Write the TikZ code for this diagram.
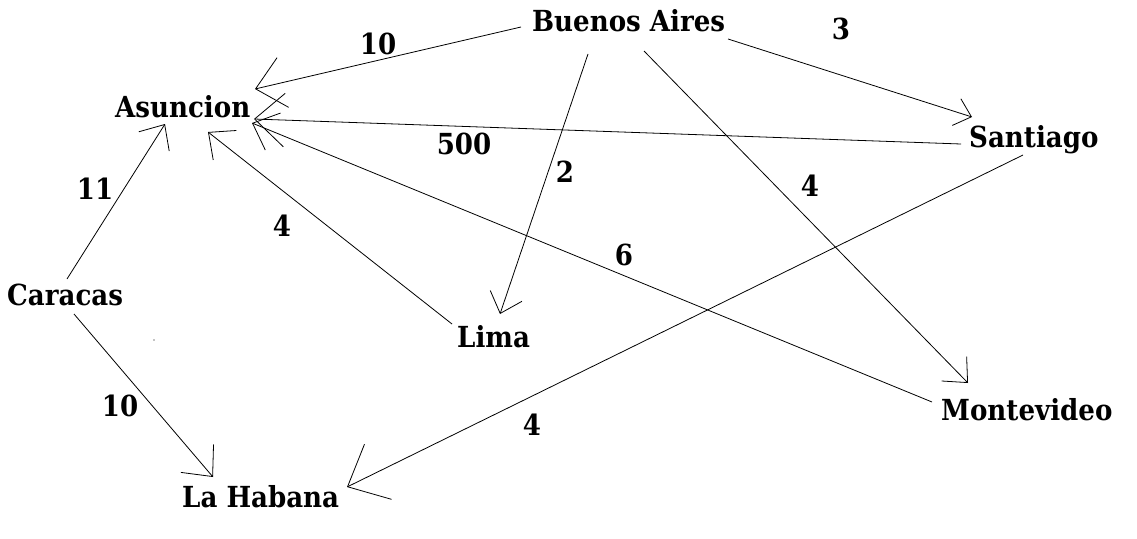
\documentclass[tikz,border=0pt]{standalone}
\usepackage{fontspec}
\newfontfamily\lblfont{DejaVu Serif Condensed Bold}
\usetikzlibrary{arrows.meta}
\begin{document}
\begin{tikzpicture}[x=1pt,y=-1pt,
  city/.style={anchor=base west, inner sep=0pt, font=\lblfont\fontsize{29}{35}\selectfont},
  wt/.style={inner sep=0pt, font=\lblfont\fontsize{29}{35}\selectfont},
  link/.style={line width=0.8pt, line join=miter},
  hd/.style 2 args={-{Straight Barb[length=#1pt,width=#2pt]}}]
\useasboundingbox (0,0) rectangle (1137,538);
% cities
\node[city] (ba)  at (532,31)  {Buenos Aires};
\node[city] (asu) at (115,117) {Asuncion};
\node[city] (san) at (969,147) {Santiago};
\node[city] (car) at (7,305)   {Caracas};
\node[city] (lim) at (457,347) {Lima};
\node[city] (mon) at (941,420) {Montevideo};
\node[city] (hab) at (182,507) {La Habana};
% connectors
\draw[link,hd={28}{51}]     ([shift={(-11,-4)}]ba.base west)  -- ([shift={(140,-28)}]asu.base west);
\draw[link,hd={15.6}{28}]   ([shift={(196,8)}]ba.base west)   -- ([shift={(3,-30)}]san.base west);
\draw[link,hd={18.5}{33.5}] ([shift={(56,23)}]ba.base west)   -- ([shift={(43,-33)}]lim.base west);
\draw[link,hd={19.3}{35}]   ([shift={(112,20)}]ba.base west)  -- ([shift={(27,-37)}]mon.base west);
\draw[link,hd={29.7}{53.5}] ([shift={(-8,-3)}]san.base west)  -- ([shift={(139,2)}]asu.base west);
\draw[link,hd={34}{61.5}]   ([shift={(54,8)}]san.base west)   -- ([shift={(165,-20)}]hab.base west);
\draw[link,hd={22}{40}]     ([shift={(-9,-18)}]mon.base west) -- ([shift={(137,6)}]asu.base west);
\draw[link,hd={20.8}{37.5}] ([shift={(-5,-23)}]lim.base west) -- ([shift={(93,15)}]asu.base west);
\draw[link,hd={20}{36}]     ([shift={(60,-26)}]car.base west) -- ([shift={(50,7)}]asu.base west);
\draw[link,hd={23.8}{43}]   ([shift={(67,9)}]car.base west)   -- ([shift={(31,-30)}]hab.base west);
% weights
\node[wt] (w1)  at (378,44)  {10};
\node[wt] (w2)  at (841,29)  {3};
\node[wt] (w3)  at (565,172) {2};
\node[wt] (w4)  at (810,186) {4};
\node[wt] (w5)  at (464,144) {500};
\node[wt] (w6)  at (532,425) {4};
\node[wt] (w7)  at (624,255) {6};
\node[wt] (w8)  at (282,226) {4};
\node[wt] (w9)  at (95,189)  {11};
\node[wt] (w10) at (120,406) {10};
% stray dot
\fill (154,340) circle (0.6);
\end{tikzpicture}
\end{document}
